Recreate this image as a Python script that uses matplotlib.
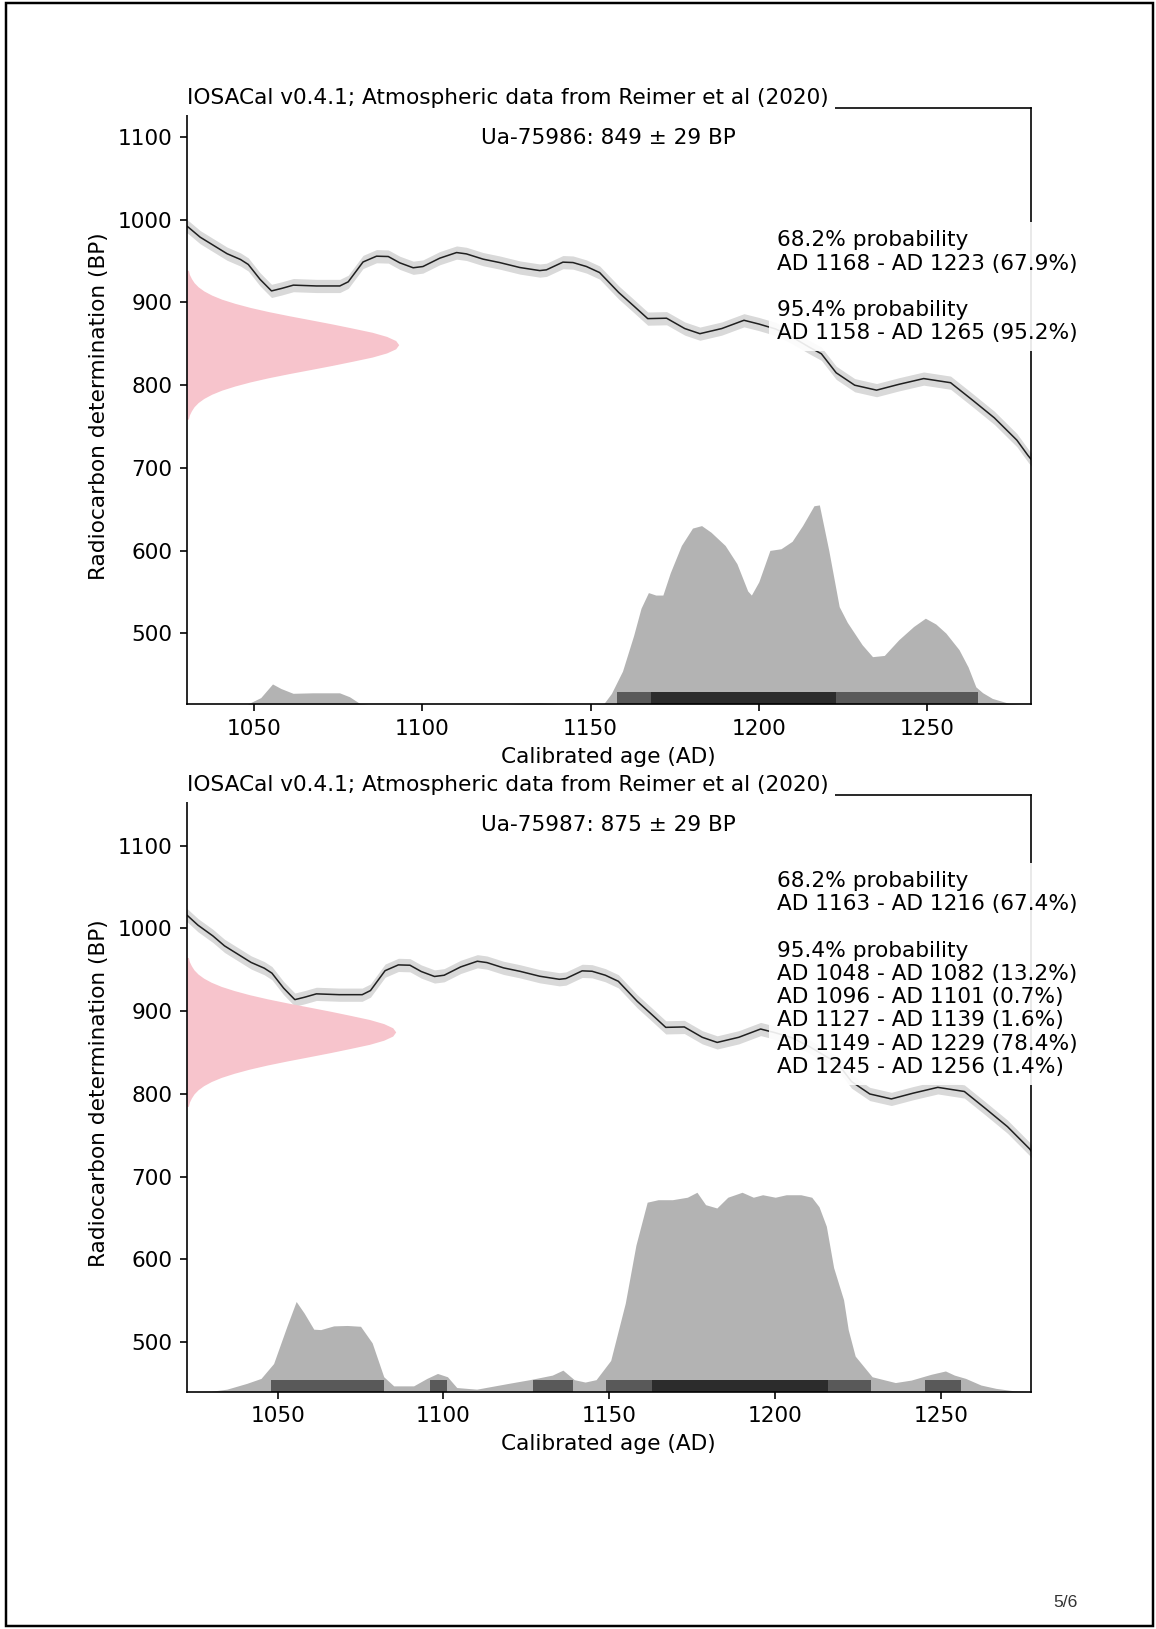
import numpy as np
import matplotlib

matplotlib.use("Agg")
import matplotlib.pyplot as plt
from matplotlib.patches import Rectangle

# page size in pixels, rendered so that 10 pt text is about 20 px high
DPI = 148
W, H = 1156, 1629
plt.rcParams["font.size"] = 10.5

title_text = "IOSACal v0.4.1; Atmospheric data from Reimer et al (2020)"

# calibration curve (same segment in both panels)
cal_year = [1020, 1023, 1026, 1030.5, 1034, 1038, 1042, 1046, 1048.3, 1051.8,
            1055.2, 1058.2, 1061.7, 1068.6, 1075.5, 1078, 1082.4, 1086.4, 1089.9, 1093.3,
            1097.3, 1100.2, 1105.2, 1110.2, 1113.1, 1118.1, 1123, 1129, 1134.9, 1136.9,
            1141.8, 1144.8, 1148.8, 1152.7, 1158.4, 1162.8, 1167, 1172.6, 1178, 1182.5,
            1189, 1195.6, 1200, 1205, 1210, 1215, 1218.6, 1223, 1228.5, 1235,
            1241.6, 1249, 1257, 1263.5, 1270, 1276.7, 1280, 1282]
cal_bp = [1024, 1015, 1004, 991, 979, 969, 959, 952, 946, 928,
          914, 917, 921, 920, 920, 925, 949, 956, 955.6, 948,
          942, 943.5, 953.6, 960.4, 958.8, 952.4, 948.3, 942.3, 938.6, 939.5,
          948.8, 948.3, 943.5, 936.2, 912, 896, 880.5, 881, 868.5, 862.3,
          868.5, 878.5, 874, 868, 858, 846, 838, 815, 800, 794,
          801, 808, 803, 782, 760.5, 733.5, 715, 705]
cal_sigma = 8

# the two radiocarbon dates
sample_ids = ["Ua-75986", "Ua-75987"]
date_bp = [849, 875]
date_err = [29, 29]

# pink profile of the measured date: width in years at BP offsets from the mean
pink_offset = list(range(-90, 91, 5))
pink_width = [0.5, 0.8, 1.4, 2.2, 3.4, 5.1, 7.4, 10.4, 14.3, 18.9, 24.3, 30.4, 36.9,
              43.3, 49.3, 55.1, 59.4, 62.1, 63.0, 62.1, 59.4, 55.1, 49.3, 43.3, 36.9,
              30.4, 24.3, 18.9, 14.3, 10.4, 7.4, 5.1, 3.4, 2.2, 1.4, 0.8, 0.5]

# calibrated distributions, height above the lower axis limit (BP units)
top_year = [1040, 1048, 1052, 1055.5, 1058, 1061.6, 1067.5, 1075.4, 1078.4, 1081.4,
            1084, 1125, 1130, 1135, 1140, 1150, 1154, 1156.2, 1159.5, 1162.8,
            1165, 1167.2, 1169.4, 1171.5, 1173.7, 1177, 1180.3, 1183, 1185.8, 1190,
            1193.5, 1196.7, 1197.8, 1200, 1203.3, 1206.6, 1209.9, 1213, 1216.4, 1218,
            1220.8, 1223.9, 1226.3, 1230.7, 1233.8, 1237.3, 1241.6, 1246, 1249.5, 1252.6,
            1255.6, 1259.5, 1262.2, 1264.5, 1266.5, 1269.4, 1274.4, 1278, 1282]
top_h = [0, 0, 8, 24.5, 19, 13.2, 13.8, 13.8, 9, 1,
         0, 0, 1, 1.5, 0.5, 0, 1, 13, 40, 83,
         116, 135, 132, 132, 159, 192, 213, 216, 208, 192,
         170, 137, 132, 148, 186, 188, 197, 216, 240, 241,
         186, 118, 99, 72, 57.5, 59, 78, 94, 104, 97,
         86, 66, 45, 21, 14, 7, 1, 0, 0]

bot_year = [1025, 1030, 1034.7, 1040.7, 1045, 1048.8, 1052.8, 1055.6, 1058, 1060.9,
            1063, 1066.9, 1071, 1075, 1078.5, 1082, 1085, 1091, 1095, 1098.2,
            1101.2, 1104, 1110, 1119.6, 1126, 1132.8, 1136, 1139.4, 1142.7, 1146,
            1150.4, 1154.8, 1158, 1161.4, 1164.7, 1169, 1173.5, 1176.4, 1179, 1182.4,
            1185.7, 1190, 1193.4, 1196.2, 1200, 1203.3, 1207.7, 1211, 1213.2, 1215.4,
            1217.6, 1220.6, 1222, 1224.1, 1229.2, 1236.2, 1241, 1247, 1251.3, 1254,
            1257.4, 1262, 1266.5, 1272, 1277]
bot_h = [0, 0.5, 3, 10, 16, 34, 79, 109, 95, 75.5,
         75, 79.5, 80, 79, 59, 18, 7, 7, 16, 22,
         18, 5, 3, 10, 14.5, 20, 26, 14.5, 11.6, 14.5,
         37.7, 107, 177, 229, 232, 232, 235, 241, 226, 222,
         235, 241, 235, 238, 235, 238, 238, 235, 223.5, 200,
         150, 111, 75, 43, 18, 11, 14, 21, 25, 20,
         16, 8, 4, 1, 0]

# highest density ranges and their probabilities
top_hpd68 = [(1168, 1223)]
top_p68 = [67.9]
top_hpd95 = [(1158, 1265)]
top_p95 = [95.2]
bot_hpd68 = [(1163, 1216)]
bot_p68 = [67.4]
bot_hpd95 = [(1048, 1082), (1096, 1101), (1127, 1139), (1149, 1229), (1245, 1256)]
bot_p95 = [13.2, 0.7, 1.6, 78.4, 1.4]


def range_text(hpd68, p68, hpd95, p95):
    lines = ["68.2% probability"]
    lines += [f"AD {a} - AD {b} ({p}%)" for (a, b), p in zip(hpd68, p68)]
    lines += ["", "95.4% probability"]
    lines += [f"AD {a} - AD {b} ({p}%)" for (a, b), p in zip(hpd95, p95)]
    return "\n".join(lines)


def draw_panel(ax, xlim, ylim, sample, bp, err, fy, fh, hpd68, p68, hpd95, p95):
    ax.set_xlim(xlim)
    ax.set_ylim(ylim)

    cy = np.array(cal_bp)
    ax.fill_between(cal_year, cy - cal_sigma, cy + cal_sigma, color="k", alpha=0.15, lw=0)
    ax.plot(cal_year, cal_bp, color="k", lw=0.75, alpha=0.85)

    py = bp + np.array(pink_offset)
    ax.fill_betweenx(py, xlim[0], xlim[0] + np.array(pink_width), color="#f7c4cc", lw=0)

    ax.fill_between(fy, ylim[0], ylim[0] + np.array(fh), color="#b3b3b3", lw=0)
    for a, b in hpd95:
        ax.axvspan(a, b, ymin=0, ymax=0.02, facecolor="k", alpha=0.5, lw=0)
    for a, b in hpd68:
        ax.axvspan(a, b, ymin=0, ymax=0.02, facecolor="k", alpha=0.5, lw=0)

    ax.set_xticks([1050, 1100, 1150, 1200, 1250])
    ax.set_yticks([500, 600, 700, 800, 900, 1000, 1100])
    ax.set_xlabel("Calibrated age (AD)")
    ax.set_ylabel("Radiocarbon determination (BP)")

    ax.text(0, 1, title_text, transform=ax.transAxes, ha="left", va="bottom",
            bbox=dict(facecolor="white", edgecolor="none", pad=3.5))
    ax.text(0.5, 0.95, f"{sample}: {bp} \u00b1 {err} BP", transform=ax.transAxes,
            ha="center", va="center",
            bbox=dict(facecolor="white", edgecolor="none", alpha=0.9))
    ax.text(0.70, 0.70, range_text(hpd68, p68, hpd95, p95), transform=ax.transAxes,
            ha="left", va="center",
            bbox=dict(facecolor="white", edgecolor="none", alpha=0.9))


fig = plt.figure(figsize=(W / DPI, H / DPI), dpi=DPI)
ax1 = fig.add_axes([0.1615, 0.5677, 0.7301, 0.3661])
ax2 = fig.add_axes([0.1615, 0.1457, 0.7301, 0.3663])

draw_panel(ax1, (1030, 1280.8), (414.2, 1135.4), sample_ids[0], date_bp[0], date_err[0],
           top_year, top_h, top_hpd68, top_p68, top_hpd95, top_p95)
draw_panel(ax2, (1022.6, 1277), (440.2, 1161.4), sample_ids[1], date_bp[1], date_err[1],
           bot_year, bot_h, bot_hpd68, bot_p68, bot_hpd95, bot_p95)

# scanned page frame and page number
fig.add_artist(Rectangle((6 / W, 3 / H), 1147 / W, 1623 / H, transform=fig.transFigure,
                         fill=False, edgecolor="black", lw=1.2))
fig.text(0.9217, 0.016, "5/6", ha="center", va="center", fontsize=8.5,
         family=["Liberation Sans", "DejaVu Sans"], color="#333333")

fig.savefig("out.png", dpi=DPI)
